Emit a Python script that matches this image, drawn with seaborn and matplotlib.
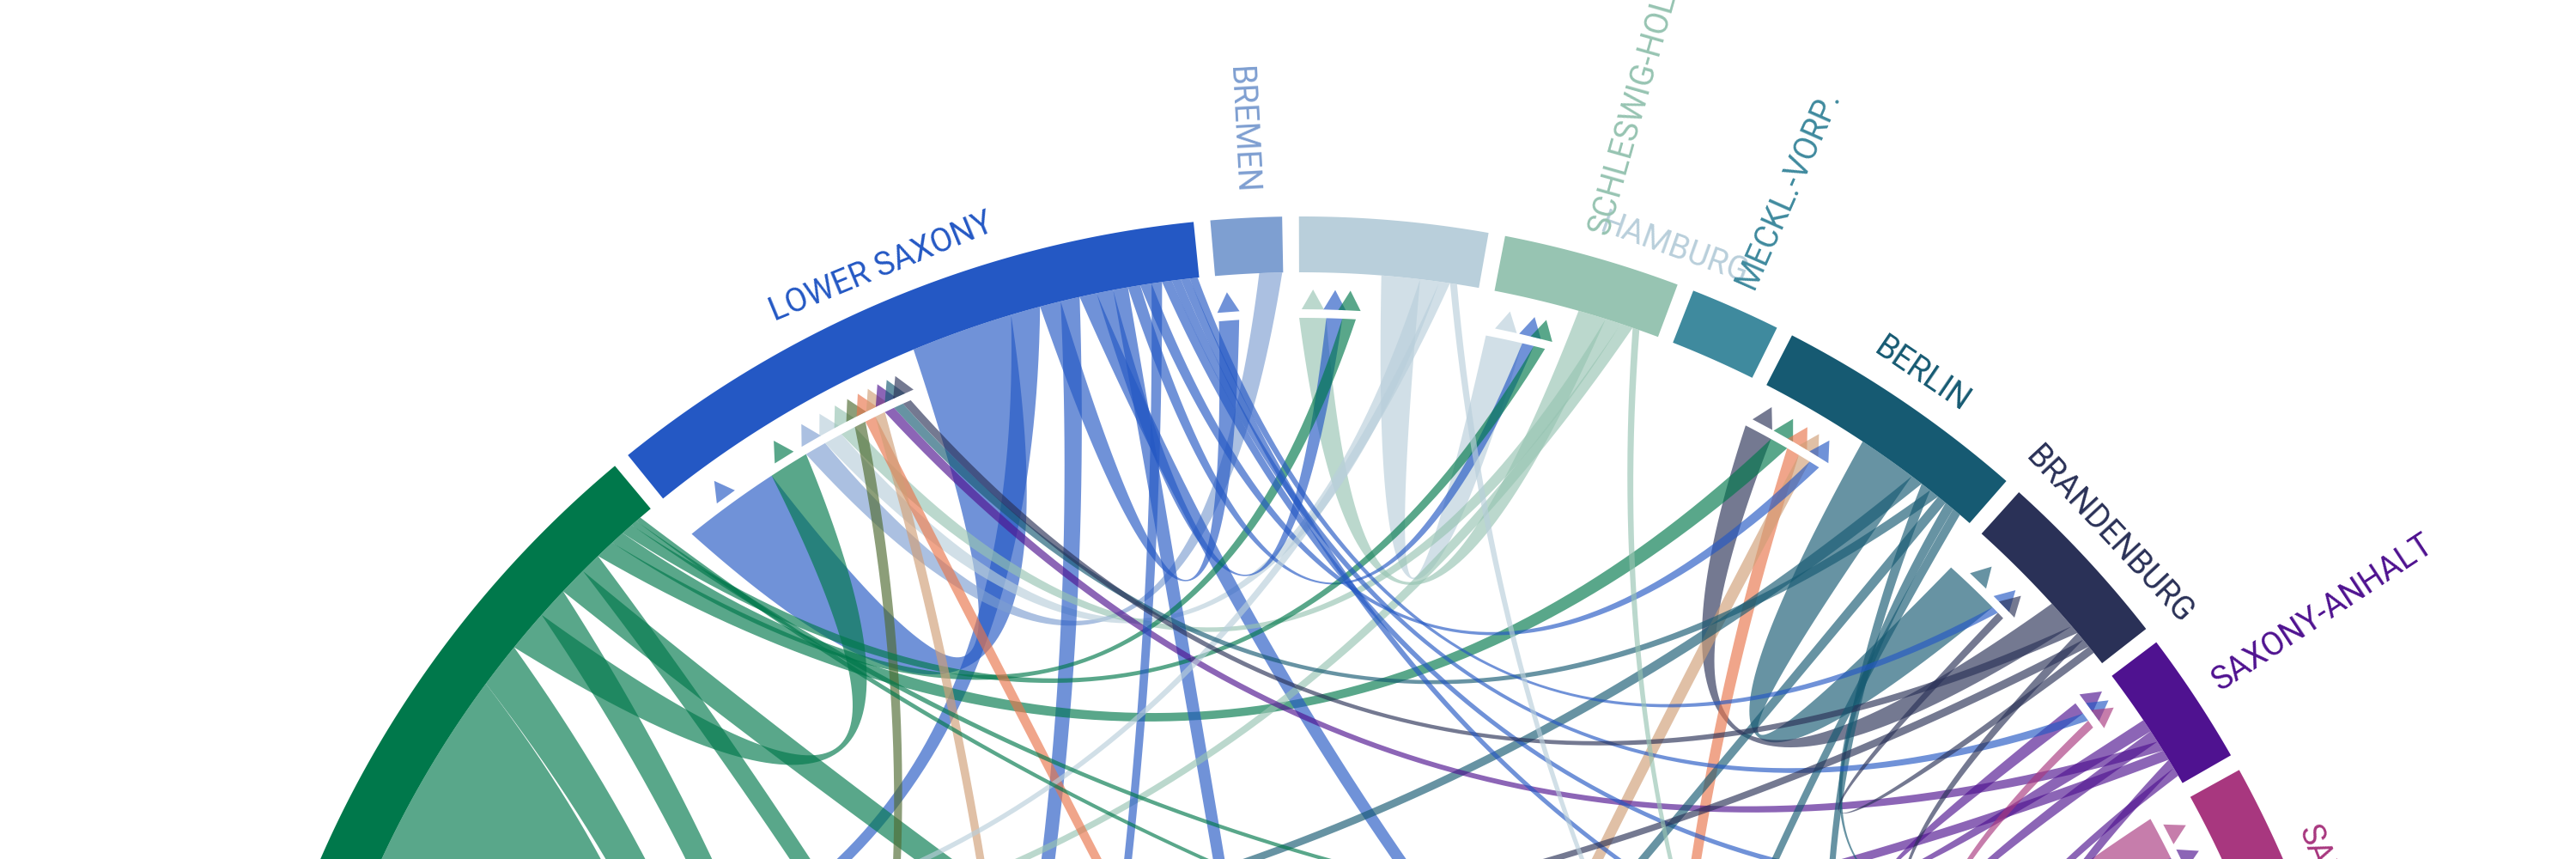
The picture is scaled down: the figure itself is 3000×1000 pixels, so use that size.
import numpy as np
import matplotlib
matplotlib.use("Agg")
import matplotlib.pyplot as plt
from matplotlib.patches import Polygon
import seaborn as sns

# internal migration between German states (thousands of moves)
states = ["LS", "HB", "HH", "SH", "MV", "BE", "BB", "SA",
          "SN", "TH", "BY", "BW", "SL", "RP", "HE", "NRW"]
names = ["LOWER SAXONY", "BREMEN", "HAMBURG", "SCHLESWIG-HOLSTEIN", "MECKL.-VORP.",
         "BERLIN", "BRANDENBURG", "SAXONY-ANHALT", "SAXONY", "THURINGIA", "BAVARIA",
         "BADEN-WÜRTT.", "SAARLAND", "RHINELAND-PAL.", "HESSE", "NORTH RHINE-WESTPHALIA"]
totals = [33.2, 3.85, 10.2, 9.6, 4.9, 13.9, 10.0, 7.25,
          15.0, 9.0, 66.0, 48.0, 4.0, 9.0, 17.0, 84.7]
colors = ["#2458c4", "#7e9fd1", "#b9cfdb", "#97c4b2", "#3f8a9e", "#165a72", "#2a3157", "#4f1290",
          "#a8377f", "#d96a8c", "#e8754b", "#d09e76", "#b8a58a", "#a39a5b", "#4f6b31", "#00784b"]

flow_src = ["LS", "NRW", "HB", "HH", "SH", "HE", "BY", "BW", "SA", "BE", "BB",
            "LS", "LS", "LS", "LS", "LS", "LS", "LS", "LS", "LS", "LS", "LS", "LS", "LS",
            "HH", "HH", "HH", "SH", "SH", "SH", "NRW", "NRW",
            "BB", "NRW", "BY", "BW", "BE", "BE", "BE", "BE", "BE", "BE",
            "BB", "BB", "BB", "SA", "SN", "SA", "SA", "SA", "SA",
            "SN", "TH", "BY", "SN", "SN", "SN", "SN",
            "NRW", "HE", "RP", "BY", "BW", "SL", "TH",
            "NRW", "NRW", "NRW", "NRW", "NRW", "NRW",
            "BY", "BW", "BY", "BW"]
flow_dst = ["LS", "LS", "LS", "LS", "LS", "LS", "LS", "LS", "LS", "LS", "LS",
            "NRW", "HB", "HE", "BY", "BW", "HH", "SH", "BE", "RP", "SN", "SA", "TH", "BB",
            "SH", "NRW", "BY", "HH", "NRW", "BY", "HH", "SH",
            "BE", "BE", "BE", "BE", "BB", "NRW", "BY", "HE", "SN", "BW",
            "BB", "SN", "NRW", "SA", "SA", "SN", "NRW", "BY", "TH",
            "SN", "SN", "SN", "BY", "TH", "NRW", "BW",
            "NRW", "NRW", "NRW", "NRW", "NRW", "NRW", "NRW",
            "HE", "RP", "BY", "BW", "SN", "TH",
            "BY", "BW", "BW", "BY"]
flow_val = [5.85, 2.4, 1.3, 1.1, 0.9, 0.7, 0.66, 0.62, 0.6, 0.58, 0.5,
            1.7, 1.2, 1.1, 0.98, 0.85, 0.95, 0.7, 0.65, 0.6, 0.55, 0.52, 0.5, 0.45,
            2.2, 0.6, 0.4, 1.6, 0.7, 0.4, 0.8, 0.68,
            1.7, 1.1, 0.8, 0.75, 3.4, 0.7, 0.6, 0.55, 0.55, 0.5,
            0.45, 0.5, 0.5, 0.75, 0.5, 0.7, 0.6, 0.55, 0.5,
            2.6, 0.6, 0.5, 0.9, 0.6, 0.9, 0.5,
            14.0, 9.0, 5.0, 11.2, 6.5, 3.5, 0.9,
            2.6, 1.8, 1.6, 1.2, 0.35, 0.3,
            18.0, 12.0, 4.0, 5.0]

sns.set_theme(style="white")
plt.rcParams['font.family'] = ['Roboto', 'DejaVu Sans']

cx, cy = 1516, 1499
r_out, r_in, r_end = 1247, 1182, 1129
gap, start, pad, pull = 0.9, -39.0, 1.3, 0.45


def pt(b, r):
    t = np.radians(b)
    return np.array([cx + r * np.sin(t), cy - r * np.cos(t)])


def arc(r, b0, b1):
    t = np.radians(np.linspace(b0, b1, max(int(abs(b1 - b0) * 4) + 2, 3)))
    return np.column_stack([cx + r * np.sin(t), cy - r * np.cos(t)])


def bez(p0, p2, n=80):
    c = np.array([cx, cy])
    ctrl = c + pull * ((p0 + p2) / 2 - c)
    t = np.linspace(0, 1, n)[:, None]
    return (1 - t) ** 2 * p0 + 2 * t * (1 - t) * ctrl + t ** 2 * p2


# arc spans
scale = (360 - gap * len(states)) / sum(totals)
span = {}
b = start
for s, v in zip(states, totals):
    span[s] = (b, b + v * scale)
    b += v * scale + gap

# place each chord end inside its arc: inflows first, then outflows
order = sorted(range(len(flow_val)), key=lambda i: -flow_val[i])
src_pos, dst_pos = {}, {}
for s in states:
    cur = span[s][0]
    ins = [i for i in order if flow_dst[i] == s]
    for i in ins:
        dst_pos[i] = (cur, cur + flow_val[i] * scale)
        cur += flow_val[i] * scale
    if ins:
        cur += pad
    for i in order:
        if flow_src[i] == s:
            src_pos[i] = (cur, cur + flow_val[i] * scale)
            cur += flow_val[i] * scale

col = dict(zip(states, colors))

fig = plt.figure(figsize=(30, 10), dpi=100)
ax = fig.add_axes([0, 0, 1, 1])
ax.set_xlim(0, 3000)
ax.set_ylim(1000, 0)
ax.set_axis_off()

for i in order:
    a0, a1 = src_pos[i]
    b0, b1 = dst_pos[i]
    poly = np.vstack([arc(r_in, a0, a1), bez(pt(a1, r_in), pt(b0, r_end)),
                      arc(r_end, b0, b1), bez(pt(b1, r_end), pt(a0, r_in))])
    ax.add_patch(Polygon(poly, closed=True, facecolor=col[flow_src[i]], alpha=0.65, lw=0))

# arrow heads at the receiving end
hw = np.degrees(13 / 1139)
for i in order:
    b0, b1 = dst_pos[i]
    c = (b0 + b1) / 2
    tri = np.array([pt(c - hw, 1139), pt(c + hw, 1139), pt(c, 1162)])
    ax.add_patch(Polygon(tri, closed=True, facecolor=col[flow_src[i]], alpha=0.65, lw=0))

for s in states:
    s0, s1 = span[s]
    band = np.vstack([arc(r_out, s0, s1), arc(r_in, s1, s0)])
    ax.add_patch(Polygon(band, closed=True, facecolor=col[s], lw=0))

# labels
radial = {"HB": "in", "SH": "out", "MV": "out", "SA": "out"}
label_at = {"HH": 19.75}
for s, name in zip(states, names):
    s0, s1 = span[s]
    m = label_at.get(s, (s0 + s1) / 2)
    mode = radial.get(s)
    if mode == "out":
        x, y = pt(m, 1275)
        ax.text(x, y, name, rotation=90 - m, rotation_mode='anchor', ha='left', va='center',
                fontsize=27, color=col[s])
    elif mode == "in":
        x, y = pt(m, 1275)
        ax.text(x, y, name, rotation=-90 - m, rotation_mode='anchor', ha='right', va='center',
                fontsize=27, color=col[s])
    else:
        x, y = pt(m, 1285)
        mm = (m + 180) % 360 - 180
        rot = -mm if -90 <= mm <= 90 else 180 - mm
        ax.text(x, y, name, rotation=rot, rotation_mode='anchor', ha='center', va='center',
                fontsize=27, color=col[s])

fig.savefig("out.png", dpi=100, facecolor="white")
